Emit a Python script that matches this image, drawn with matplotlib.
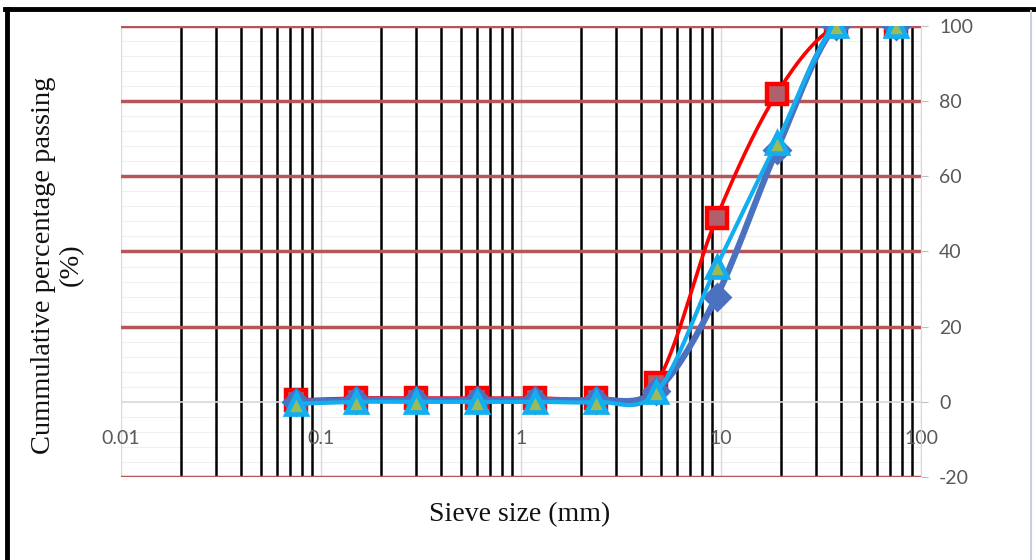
import numpy as np
import matplotlib
matplotlib.use("Agg")
import matplotlib.pyplot as plt
from matplotlib.lines import Line2D

# ---- data ----
sieve_mm = [0.075, 0.15, 0.3, 0.6, 1.18, 2.36, 4.75, 9.5, 19, 37.5, 75]
series_red = [0.5, 1, 1, 1, 1, 1, 5, 49, 82, 100, 100]
series_darkblue = [0, 0.5, 0.5, 0.5, 0.5, 0.5, 3, 28, 67, 100, 100]
series_lightblue = [-0.5, 0, 0, 0, 0, 0, 2.5, 36, 69, 100, 100]

x_ticks = [0.01, 0.1, 1, 10, 100]
x_ticklabels = ["0.01", "0.1", "1", "10", "100"]
y_ticks = [-20, 0, 20, 40, 60, 80, 100]

W, H = 1036, 560
fig = plt.figure(figsize=(W / 100, H / 100), dpi=100)
ax = fig.add_axes([121 / W, 1 - 477 / H, 800 / W, 451 / H])
ax.set_xscale("log")
ax.set_xlim(0.01, 100)
ax.set_ylim(-20, 100)

# grid: minor horizontal
for v in np.arange(-20, 100.1, 4):
    ax.axhline(v, color="#efefef", lw=0.8, zorder=0.5)
# major vertical (decades) light gray
for xv in x_ticks:
    ax.axvline(xv, color="#d9d9d9", lw=1, zorder=0.6)
# minor vertical black
for dec in x_ticks[:-1]:
    for m in range(2, 10):
        ax.axvline(dec * m, color="black", lw=1.8, zorder=0.7)
# major horizontal dark red (0 is axis line)
for v in y_ticks:
    if v == 0:
        ax.axhline(v, color="#d9d9d9", lw=1.2, zorder=0.8)
    else:
        ax.axhline(v, color="#b5565a", lw=2.5, zorder=0.8)


def smooth(xs, ys, n=30):
    u = np.log10(np.array(xs, float)) * 200.0
    v = np.array(ys, float) * 3.75
    P = np.column_stack([u, v])
    out = []
    for i in range(len(P) - 1):
        p0 = P[i - 1] if i > 0 else P[i]
        p1, p2 = P[i], P[i + 1]
        p3 = P[i + 2] if i + 2 < len(P) else P[i + 1]
        c1 = p1 + (p2 - p0) / 6.0
        c2 = p2 - (p3 - p1) / 6.0
        t = np.linspace(0, 1, n)[:, None]
        seg = ((1 - t) ** 3) * p1 + 3 * ((1 - t) ** 2) * t * c1 + 3 * (1 - t) * t ** 2 * c2 + t ** 3 * p2
        out.append(seg if i == 0 else seg[1:])
    S = np.vstack(out)
    return 10 ** (S[:, 0] / 200.0), S[:, 1] / 3.75


xr, yr = smooth(sieve_mm, series_red)
ax.plot(xr, yr, color="#ff0000", lw=2.6, zorder=3, solid_capstyle="round")
ax.plot(sieve_mm, series_red, ls="none", marker="s", ms=14, mfc="#b0606c",
        mec="#ff0000", mew=3.2, zorder=3.1)

xd, yd = smooth(sieve_mm, series_darkblue)
ax.plot(xd, yd, color="#4a72c0", lw=4.5, zorder=4, solid_capstyle="round")
ax.plot(sieve_mm, series_darkblue, ls="none", marker="D", ms=13, mfc="#4a72c0",
        mec="#4a72c0", mew=2, zorder=4.1)

xl, yl = smooth(sieve_mm, series_lightblue)
ax.plot(xl, yl, color="#12aef0", lw=3, zorder=5, solid_capstyle="round")
ax.plot(sieve_mm, series_lightblue, ls="none", marker="^", ms=15, mfc="#9bbb59",
        mec="#12aef0", mew=3.4, zorder=5.1)

# axes styling
for s in ["top", "left", "bottom"]:
    ax.spines[s].set_visible(False)
ax.spines["right"].set_color("#d9d9d9")
ax.spines["bottom"].set_position(("data", 0))

ax.yaxis.tick_right()
ax.set_yticks(y_ticks)
ax.set_yticklabels([str(v) for v in y_ticks])
ax.tick_params(axis="y", which="both", length=5, color="#bfbfbf", pad=8,
               labelsize=14, labelcolor="#595959")
ax.set_xticks(x_ticks)
ax.set_xticklabels(x_ticklabels)
ax.xaxis.set_minor_locator(matplotlib.ticker.NullLocator())
ax.tick_params(axis="x", which="both", length=0, pad=20, labelsize=14,
               labelcolor="#595959")
for lab in ax.get_xticklabels() + ax.get_yticklabels():
    lab.set_fontfamily("Lato")

fig.text(57 / W, 1 - 265 / H, "Cummulative percentage passing\n(%)",
         rotation=90, ha="center", va="center", multialignment="center",
         family="Liberation Serif", fontsize=20.5, color="#111111", linespacing=1.15)
fig.text(520 / W, 1 - 515 / H, "Sieve size (mm)", ha="center", va="center",
         family="Liberation Serif", fontsize=20, color="#111111")

# outer frame
fig.add_artist(Line2D([5 / W, 1], [1 - 9 / H, 1 - 9 / H], color="black", lw=3.5,
                      transform=fig.transFigure))
fig.add_artist(Line2D([7 / W, 7 / W], [0, 1 - 9 / H], color="black", lw=3.5,
                      transform=fig.transFigure))
fig.add_artist(Line2D([1031 / W, 1031 / W], [0, 1 - 11 / H], color="#c8d0dc", lw=1.5,
                      transform=fig.transFigure))

fig.savefig("out.png", dpi=100)
